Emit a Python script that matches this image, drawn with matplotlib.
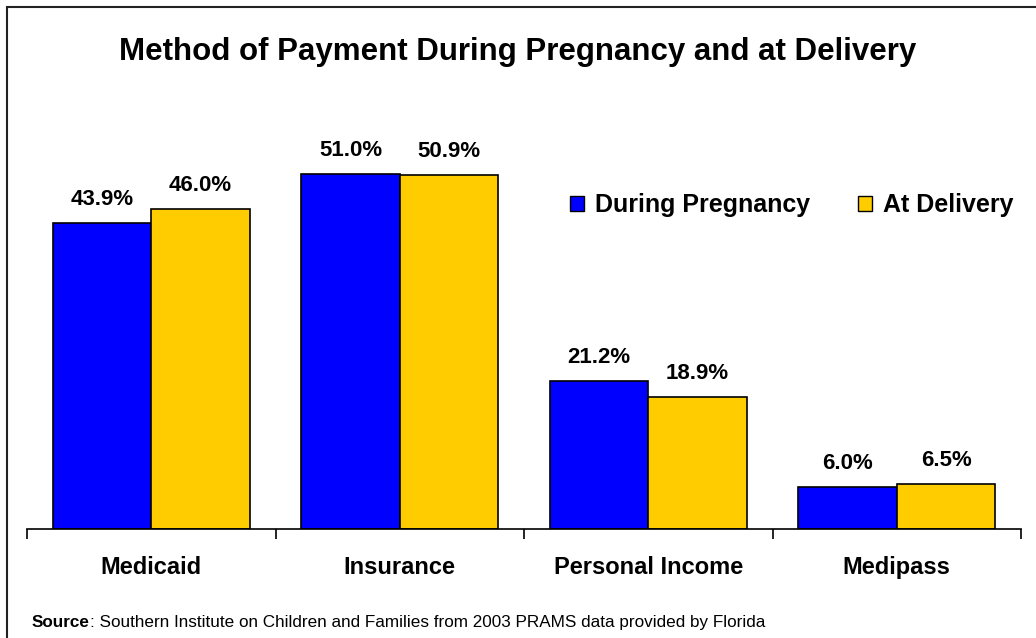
import matplotlib
matplotlib.use("Agg")
import matplotlib.pyplot as plt
from matplotlib.patches import Rectangle, Patch
import numpy as np

plt.rcParams['font.family'] = ['Liberation Sans', 'DejaVu Sans']

categories = ["Medicaid", "Insurance", "Personal Income", "Medipass"]
during = [43.9, 51.0, 21.2, 6.0]
delivery = [46.0, 50.9, 18.9, 6.5]
series_names = ["During Pregnancy", "At Delivery"]
title = "Method of Payment During Pregnancy and at Delivery"

W, H = 1036, 638
fig = plt.figure(figsize=(W/100, H/100), dpi=100)
ax = fig.add_axes([27/W, 109/H, (1021-27)/W, 417.6/H])

x = np.arange(len(categories))
bw = 0.397
b1 = ax.bar(x - bw/2, during, bw, color="#0000FF", edgecolor="black", linewidth=1.2)
b2 = ax.bar(x + bw/2, delivery, bw, color="#FFCC00", edgecolor="black", linewidth=1.2)

for bars, vals in ((b1, during), (b2, delivery)):
    for r, v in zip(bars, vals):
        ax.annotate(f"{v:.1f}%", (r.get_x() + r.get_width()/2, v), xytext=(0, 13),
                    textcoords="offset points", ha="center", va="baseline",
                    fontsize=16, fontweight="bold")

ax.set_xlim(-0.5, len(categories) - 0.5)
ax.set_ylim(0, 60)
for s in ["left", "right", "top"]:
    ax.spines[s].set_visible(False)
ax.spines["bottom"].set_linewidth(1.2)
ax.set_yticks([])
ax.set_xticks(np.arange(len(categories) + 1) - 0.5)
ax.set_xticklabels([])
ax.tick_params(axis="x", length=7, width=1.2, direction="out")
for i, c in enumerate(categories):
    ax.text(i, 0, c, ha="center", va="baseline", fontsize=17, fontweight="bold",
            transform=ax.get_xaxis_transform() + matplotlib.transforms.ScaledTranslation(0, -45/100, fig.dpi_scale_trans))

handles = [Patch(facecolor="#0000FF", edgecolor="black"), Patch(facecolor="#FFCC00", edgecolor="black")]
fig.legend(handles, series_names, loc="center left", bbox_to_anchor=(570/W, 1 - 205/H),
           ncol=2, frameon=False, prop={"weight": "bold", "size": 18}, borderpad=0, borderaxespad=0,
           handlelength=0.56, handleheight=0.56, handletextpad=0.44, columnspacing=1.9)

fig.text(0.5, 1 - 60/H, title, ha="center", va="baseline", fontsize=22.5, fontweight="bold")

fig.patches.append(Rectangle((7/W, -0.1), 1.2, 1 - 7/H + 0.1, transform=fig.transFigure,
                             fill=False, edgecolor="#222222", linewidth=1.5))

t1 = fig.text(32/W, 1 - 627/H, "Source", ha="left", va="baseline", fontsize=12.3, fontweight="bold")
fig.canvas.draw()
bb = t1.get_window_extent()
fig.text(bb.x1/W, 1 - 627/H, ": Southern Institute on Children and Families from 2003 PRAMS data provided by Florida",
         ha="left", va="baseline", fontsize=12.3)

fig.savefig("out.png", dpi=100)
